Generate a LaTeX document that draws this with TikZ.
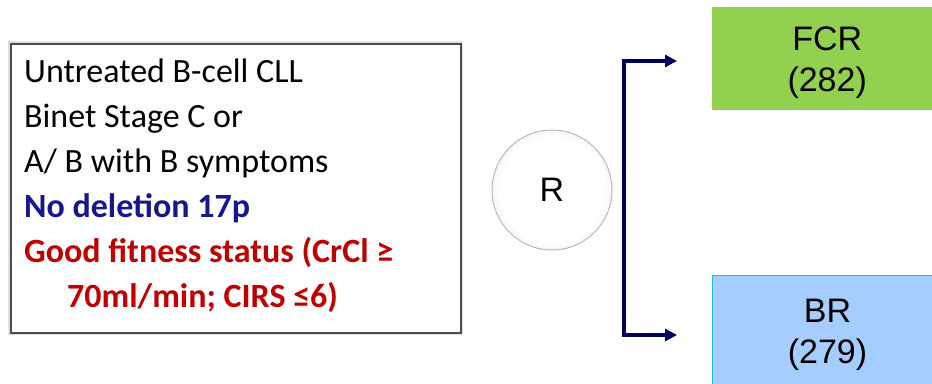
\documentclass[tikz,border=0pt]{standalone}
\usepackage{fontspec}
\setmainfont{Carlito}
\newfontfamily\arialfont{Liberation Sans}
\usetikzlibrary{arrows.meta,positioning,calc}

\definecolor{navyline}{HTML}{000060}
\definecolor{critblue}{HTML}{16168F}
\definecolor{critred}{HTML}{C00000}
\definecolor{fcrgreen}{HTML}{92D050}
\definecolor{brblue}{HTML}{A6CDFF}
\definecolor{brborder}{HTML}{22B4F0}

\pgfdeclareradialshading{rimshade}{\pgfpoint{0bp}{0bp}}{%
  color(0bp)=(white); color(22bp)=(white); color(30bp)=(gray!20); color(35bp)=(gray!55); color(50bp)=(gray!70)}

\tikzset{
  crittext/.style={anchor=base west, inner sep=0pt, font=\fontsize{34}{40}\selectfont},
  critbold/.style={crittext, font=\fontsize{34}{40}\selectfont\bfseries},
  armbox/.style={anchor=north west, minimum width=230pt, align=center, text depth=0pt,
    font=\arialfont\fontsize{34}{41}\selectfont},
  fork/.style={draw=navyline, line width=4.5pt, line join=miter,
    {Triangle[length=12pt,width=12pt]}-{Triangle[length=12pt,width=12pt]},
    shorten <=35pt, shorten >=35pt}
}

\begin{document}
\begin{tikzpicture}[x=1pt,y=-1pt]
\useasboundingbox (0,0) rectangle (932,383);

% --- Criteria box ---
\draw[gray!25, line width=5pt] (10,43) rectangle (460,332);
\node[draw=gray!60!black, line width=1.5pt, fill=white, anchor=north west,
  minimum width=450pt, minimum height=289pt, inner sep=0pt] (criteria) at (10,43) {};

% --- Criteria lines ---
\node[crittext] (untreated) at (24,82) {Untreated B-cell CLL};
\node[crittext] (binet) at (24,127) {Binet Stage C or};
\node[crittext] (symptoms) at (24,172) {A/ B with B symptoms};
\node[critbold, text=critblue] (deletion) at (24,217) {No deletion 17p};
\node[critbold, text=critred] (fitness) at (24,262) {Good fitness status (CrCl ≥};
\node[critbold, text=critred] (cirs) at (67,307) {70ml/min; CIRS ≤6)};

% --- Randomisation ---
\node[circle, minimum size=120pt, draw=gray!55, line width=1pt, shading=rimshade,
  font=\arialfont\fontsize{34}{40}\selectfont] (rand) at (552,190) {R};

% --- Treatment arms ---
\node[armbox, fill=fcrgreen, minimum height=103pt] (fcr) at (712,7) {FCR\\(282)};
\node[armbox, fill=brblue, draw=brborder, line width=1pt, minimum height=112pt] (br) at (712,275) {BR\\(279)};

% --- Fork ---
\coordinate (forktop) at (624,61);
\coordinate (forkbot) at (624,335);
\draw[fork] (forktop -| fcr.west) -- (forktop) -- (forkbot) -- (forkbot -| br.west);

\end{tikzpicture}
\end{document}
